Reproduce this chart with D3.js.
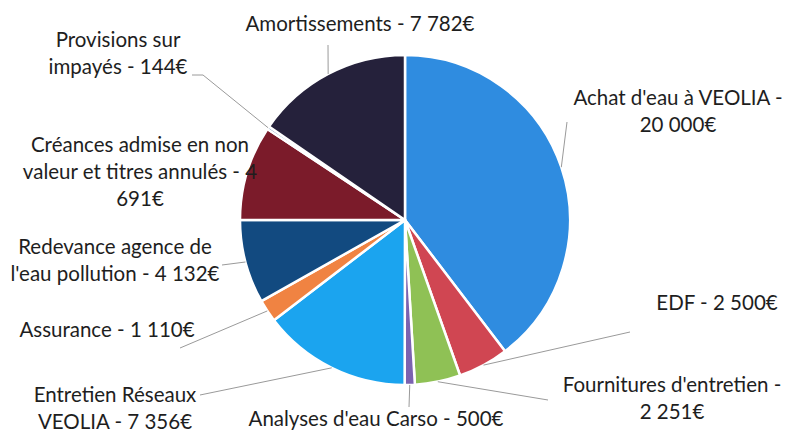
<!DOCTYPE html>
<html>
<head>
<meta charset="utf-8">
<script src="https://cdn.jsdelivr.net/npm/d3@7"></script>
<style>
  body { margin: 0; background: #fff; }
  svg { display: block; }
  text { font-family: Lato, "Open Sans", sans-serif; fill: #1e1e1e; }
</style>
</head>
<body>
<div id="chart"></div>
<script>
// Charges du budget eau, dans l'ordre du camembert (sens horaire depuis midi)
const categories = [
  "Achat d'eau à VEOLIA", "EDF", "Fournitures d'entretien", "Analyses d'eau Carso",
  "Entretien Réseaux VEOLIA", "Assurance", "Redevance agence de l'eau pollution",
  "Créances admise en non valeur et titres annulés", "Provisions sur impayés", "Amortissements"
];
const values = [20000, 2500, 2251, 500, 7356, 1110, 4132, 4691, 144, 7782];
const colors = ['#2f8ce0', '#d04652', '#8fc155', '#7b62b0', '#1ba4ef', '#f08342',
                '#124a80', '#7b1b2a', '#6a8fb8', '#25213b'];
const labelLines = [
  ["Achat d'eau à VEOLIA -", "20 000€"],
  ["EDF - 2 500€"],
  ["Fournitures d'entretien -", "2 251€"],
  ["Analyses d'eau Carso - 500€"],
  ["Entretien Réseaux", "VEOLIA - 7 356€"],
  ["Assurance - 1 110€"],
  ["Redevance agence de", "l'eau pollution - 4 132€"],
  ["Créances admise en non", "valeur et titres annulés - 4", "691€"],
  ["Provisions sur", "impayés - 144€"],
  ["Amortissements - 7 782€"]
];

// placement des étiquettes (centre horizontal, ligne de base de la 1re ligne)
// et points d'arrivée des traits de rappel
const labelPos = [
  { x: 678, y: 105, leader: [[567, 122]] },
  { x: 717, y: 310, leader: [[630, 332]] },
  { x: 672, y: 392, leader: [[548, 400]] },
  { x: 376, y: 426, leader: [[409, 407]] },
  { x: 115, y: 402, leader: [[200, 395]] },
  { x: 107, y: 337, leader: [[180, 348]] },
  { x: 115, y: 254, leader: [[222, 265]] },
  { x: 140, y: 152, leader: null },
  { x: 118, y: 47,  leader: [[203, 75], [192, 75]] },
  { x: 360, y: 31,  leader: [[328, 45]] }
];

const width = 789, height = 432;
const cx = 405, cy = 220, radius = 165;
const lineH = 27;

const data = categories.map((c, i) => ({ name: c, value: values[i], i }));

const svg = d3.select('#chart').append('svg')
  .attr('width', width)
  .attr('height', height);

const pie = d3.pie().value(d => d.value).sort(null);
const arc = d3.arc().innerRadius(0).outerRadius(radius);
const arcs = pie(data);

const g = svg.append('g').attr('transform', `translate(${cx},${cy})`);

g.selectAll('path.slice')
  .data(arcs)
  .enter().append('path')
  .attr('class', 'slice')
  .attr('d', arc)
  .attr('fill', d => colors[d.data.i])
  .attr('stroke', '#fff')
  .attr('stroke-width', 2.5)
  .attr('stroke-linejoin', 'round');

// traits de rappel : du bord de la part (angle médian) vers l'étiquette
const leaders = svg.append('g')
  .attr('fill', 'none')
  .attr('stroke', '#9a9a9a')
  .attr('stroke-width', 1);

arcs.forEach(a => {
  const lp = labelPos[a.data.i];
  if (!lp.leader) return;
  const mid = (a.startAngle + a.endAngle) / 2;
  const start = [cx + radius * Math.sin(mid), cy - radius * Math.cos(mid)];
  leaders.append('path')
    .attr('d', d3.line()([start, ...lp.leader]));
});

const labels = svg.append('g')
  .attr('font-size', 20.5)
  .attr('text-anchor', 'middle');

data.forEach(d => {
  const lp = labelPos[d.i];
  const t = labels.append('text')
    .attr('x', lp.x)
    .attr('y', lp.y);
  labelLines[d.i].forEach((line, k) => {
    t.append('tspan')
      .attr('x', lp.x)
      .attr('y', lp.y + k * lineH)
      .text(line);
  });
});
</script>
</body>
</html>
